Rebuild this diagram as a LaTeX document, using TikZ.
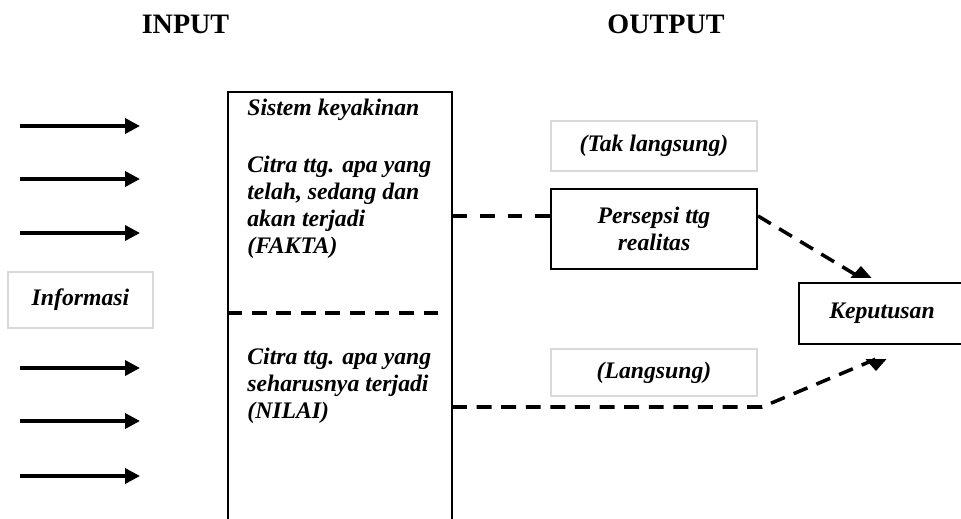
\documentclass[tikz,border=0pt]{standalone}
\usepackage{fontspec}
\setmainfont{Liberation Serif}
\usetikzlibrary{positioning}
\usetikzlibrary{arrows.meta}
\usetikzlibrary{calc}
\tikzset{
    bigbox/.style = {rectangle, draw=black, line width=1.2pt, inner sep=0pt, minimum width=4.48cm, minimum height=8.96cm},
    cell/.style = {rectangle, draw=black, line width=1.2pt, align=center, inner sep=0pt, minimum width=4.12cm},
    cellg/.style = {rectangle, draw=black!15, line width=1.2pt, align=center, inner sep=0pt},
    txt/.style = {align=left, inner sep=0pt, anchor=north west},
    head/.style = {font=\fontsize{16}{18}\selectfont\bfseries\upshape},
    edgen/.style = {-{Triangle[length=8.5pt,width=8.5pt]}, line width=2pt},
    edged/.style = {line width=2pt, dash pattern=on 8.5pt off 5.5pt}, % dashed link
    edgedd/.style = {-{Triangle[length=6.8pt,width=11.5pt]}, line width=2pt, dash pattern=on 8.5pt off 5.5pt},
    every picture/.style={font issue=\fontsize{13.5}{15.3}\bfseries\itshape},
    font issue/.style={execute at begin picture={#1\selectfont}
  }
}
\begin{document}
\begin{tikzpicture}[x=0.02cm, y=-0.02cm]
\useasboundingbox (0,0) rectangle (961,518);
\clip (0,0) rectangle (961,518);
%
\node[head] at (185.5,24) (input) {INPUT};
\node[head] at (666,24) (output) {OUTPUT};
%
\node[bigbox] at (340,316) (sistem) {};
\node[txt] at (247,99) (judul) {Sistem keyakinan};
\node[txt] at (247,156) (fakta) {Citra ttg. apa yang\\telah, sedang dan\\akan terjadi\\(FAKTA)};
\node[txt] at (247,348) (nilai) {Citra ttg. apa yang\\seharusnya terjadi\\(NILAI)};
%
\node[cellg, minimum width=2.9cm, minimum height=1.12cm] at (80.5,300) (informasi) {Informasi};
\node[cellg, minimum width=4.12cm, minimum height=1.0cm] at (654,146) (tak) {(Tak langsung)};
\node[cell, minimum height=1.6cm] at (654,229) (persepsi) {Persepsi ttg\\realitas};
\node[cellg, minimum width=4.12cm, minimum height=0.94cm] at (654,372.5) (langsung) {(Langsung)};
\node[cell, minimum width=3.32cm, minimum height=1.22cm] at (882,313.5) (keputusan) {Keputusan};
%
\coordinate (a1) at (20,126);  \coordinate (b1) at (140,126);
\coordinate (a2) at (20,179);  \coordinate (b2) at (140,179);
\coordinate (a3) at (20,233);  \coordinate (b3) at (140,233);
\coordinate (a4) at (20,368);  \coordinate (b4) at (140,368);
\coordinate (a5) at (20,421);  \coordinate (b5) at (140,421);
\coordinate (a6) at (20,476);  \coordinate (b6) at (140,476);
\coordinate (bagi) at (438,313);
\coordinate (faktaout) at (452,216);
\coordinate (nilaiout) at (452,407);
\coordinate (belok) at (762,407);
\coordinate (atas) at ($(keputusan.north west)+(63,-4)$);
\coordinate (bawah) at ($(keputusan.south west)+(78,14)$);
%
\draw[edgen] (a1) -- (b1);
\draw[edgen] (a2) -- (b2);
\draw[edgen] (a3) -- (b3);
\draw[edgen] (a4) -- (b4);
\draw[edgen] (a5) -- (b5);
\draw[edgen] (a6) -- (b6);
\draw[edged] (sistem.west |- bagi) -- (bagi);
\draw[edged, dash pattern=on 8.5pt off 7.3pt] (faktaout) -- (persepsi.west |- faktaout);
\draw[edgedd] (persepsi.east |- faktaout) -- (atas) -- ++(0,-12);
\draw[edgedd] (nilaiout) -- (belok) -- (bawah) -- ++(0,12);
\end{tikzpicture}
\end{document}
